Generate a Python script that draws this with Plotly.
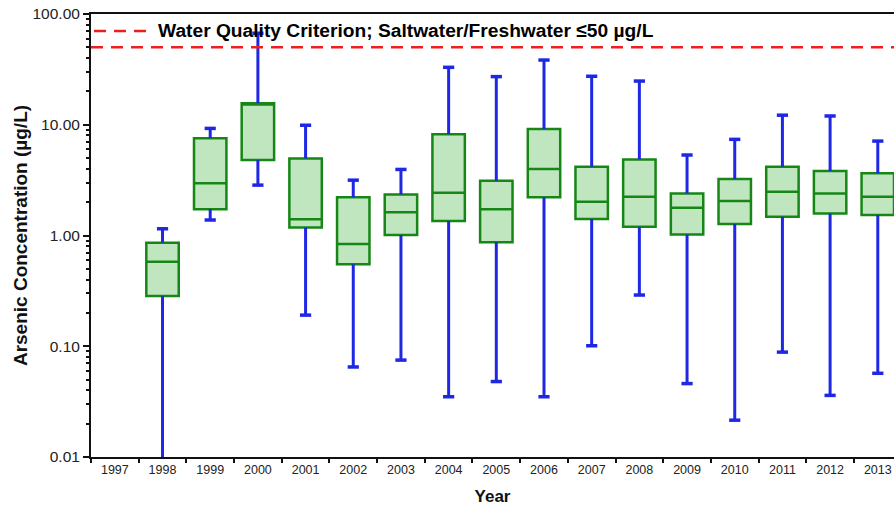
import plotly.graph_objects as go

# ---- data ----
YEARS = [str(y) for y in range(1997, 2014)]
BOX_YEARS = [str(y) for y in range(1998, 2014)]
LOWER = [0.0095, 1.38, 2.85, 0.191, 0.065, 0.075, 0.035, 0.048, 0.035, 0.101, 0.29, 0.046, 0.0215, 0.0885, 0.036, 0.057]
Q1 = [0.285, 1.73, 4.8, 1.18, 0.55, 1.01, 1.35, 0.87, 2.21, 1.41, 1.20, 1.02, 1.27, 1.48, 1.58, 1.53]
MEDIAN = [0.58, 2.96, 15.2, 1.40, 0.84, 1.62, 2.43, 1.73, 3.98, 2.02, 2.24, 1.78, 2.05, 2.48, 2.40, 2.24]
Q3 = [0.86, 7.54, 15.6, 4.97, 2.21, 2.35, 8.2, 3.12, 9.15, 4.18, 4.86, 2.40, 3.23, 4.18, 3.82, 3.64]
UPPER = [1.15, 9.27, 67.0, 9.9, 3.16, 3.95, 33.0, 27.2, 38.4, 27.4, 24.8, 5.33, 7.38, 12.2, 12.0, 7.12]
CRITERION = 50
CRITERION_LABEL = "Water Quality Criterion; Saltwater/Freshwater \u226450 \u00b5g/L"
Y_TICKS = [0.01, 0.1, 1, 10, 100]
Y_TICK_TEXT = ["0.01", "0.10", "1.00", "10.00", "100.00"]

GREEN = "rgb(22,135,22)"
FILL = "rgb(192,230,192)"
BLUE = "rgb(30,40,228)"
RED = "rgb(240,30,30)"
FONT = "Liberation Sans, Arial, sans-serif"

fig = go.Figure()

fig.add_trace(go.Box(
    x=BOX_YEARS, q1=Q1, median=MEDIAN, q3=Q3,
    lowerfence=Q1, upperfence=Q3,
    width=0.68, fillcolor=FILL,
    line=dict(color=GREEN, width=2.5),
    whiskerwidth=0, boxpoints=False, showlegend=False, hoverinfo="skip",
))

# whiskers
wx, wy = [], []
for x, lo, a, b, hi in zip(BOX_YEARS, LOWER, Q1, Q3, UPPER):
    wx += [x, x, None, x, x, None]
    wy += [b, hi, None, a, lo, None]
fig.add_trace(go.Scatter(x=wx, y=wy, mode="lines", line=dict(color=BLUE, width=3),
                         showlegend=False, hoverinfo="skip"))
fig.add_trace(go.Scatter(x=BOX_YEARS + BOX_YEARS, y=UPPER + LOWER, mode="markers",
                         marker=dict(symbol="line-ew", size=8, line=dict(color=BLUE, width=3.5)),
                         showlegend=False, hoverinfo="skip"))

# criterion line
fig.add_shape(type="line", xref="paper", x0=0, x1=1, yref="y", y0=CRITERION, y1=CRITERION,
              line=dict(color=RED, width=2.5, dash="12px,8px"))
# manual legend
PW, PH = 803.0, 443.0
fig.add_shape(type="line", xref="paper", yref="paper",
              x0=3 / PW, x1=55 / PW, y0=(457 - 31) / PH, y1=(457 - 31) / PH,
              line=dict(color=RED, width=2.5, dash="12px,8px"))
fig.add_annotation(xref="paper", yref="paper", x=65 / PW, y=(457 - 31) / PH,
                   xanchor="left", yanchor="middle", showarrow=False,
                   text="<b>" + CRITERION_LABEL + "</b>",
                   font=dict(family=FONT, size=19.2, color="black"))

fig.update_layout(
    width=894, height=509,
    margin=dict(l=91, r=0, t=14, b=52),
    paper_bgcolor="white", plot_bgcolor="white",
    font=dict(family=FONT, color="#222"),
    showlegend=False,
    xaxis=dict(
        type="category", categoryorder="array", categoryarray=YEARS,
        range=[-0.5, 16.34],
        tickmode="array", tickvals=YEARS, ticktext=YEARS,
        tickson="boundaries", ticks="outside", ticklen=4, tickwidth=2, tickcolor="#111",
        showline=True, linecolor="#111", linewidth=2, mirror=True,
        showgrid=False, zeroline=False, ticklabeloverflow="allow",
        tickfont=dict(size=12.5, family=FONT, color="#222"),
        title=dict(text="<b>Year</b>", font=dict(size=17, family=FONT, color="#111"), standoff=14),
    ),
    yaxis=dict(
        type="log", range=[-2, 2],
        tickvals=Y_TICKS, ticktext=Y_TICK_TEXT,
        ticks="outside", ticklen=6, tickwidth=2, tickcolor="#111",
        minor=dict(ticks="outside", ticklen=3, tickwidth=1.5, tickcolor="#111", dtick="D1", showgrid=False),
        showline=True, linecolor="#111", linewidth=2,
        showgrid=False, zeroline=False, ticklabeloverflow="allow",
        tickfont=dict(size=15.5, family=FONT, color="#222"),
        title=dict(text="<b>Arsenic Concentration (\u00b5g/L)</b>", font=dict(size=19, family=FONT, color="#111"), standoff=0),
    ),
)

fig.write_html("out.html", config={"displayModeBar": False},
               post_script="document.body.style.margin='0';")
